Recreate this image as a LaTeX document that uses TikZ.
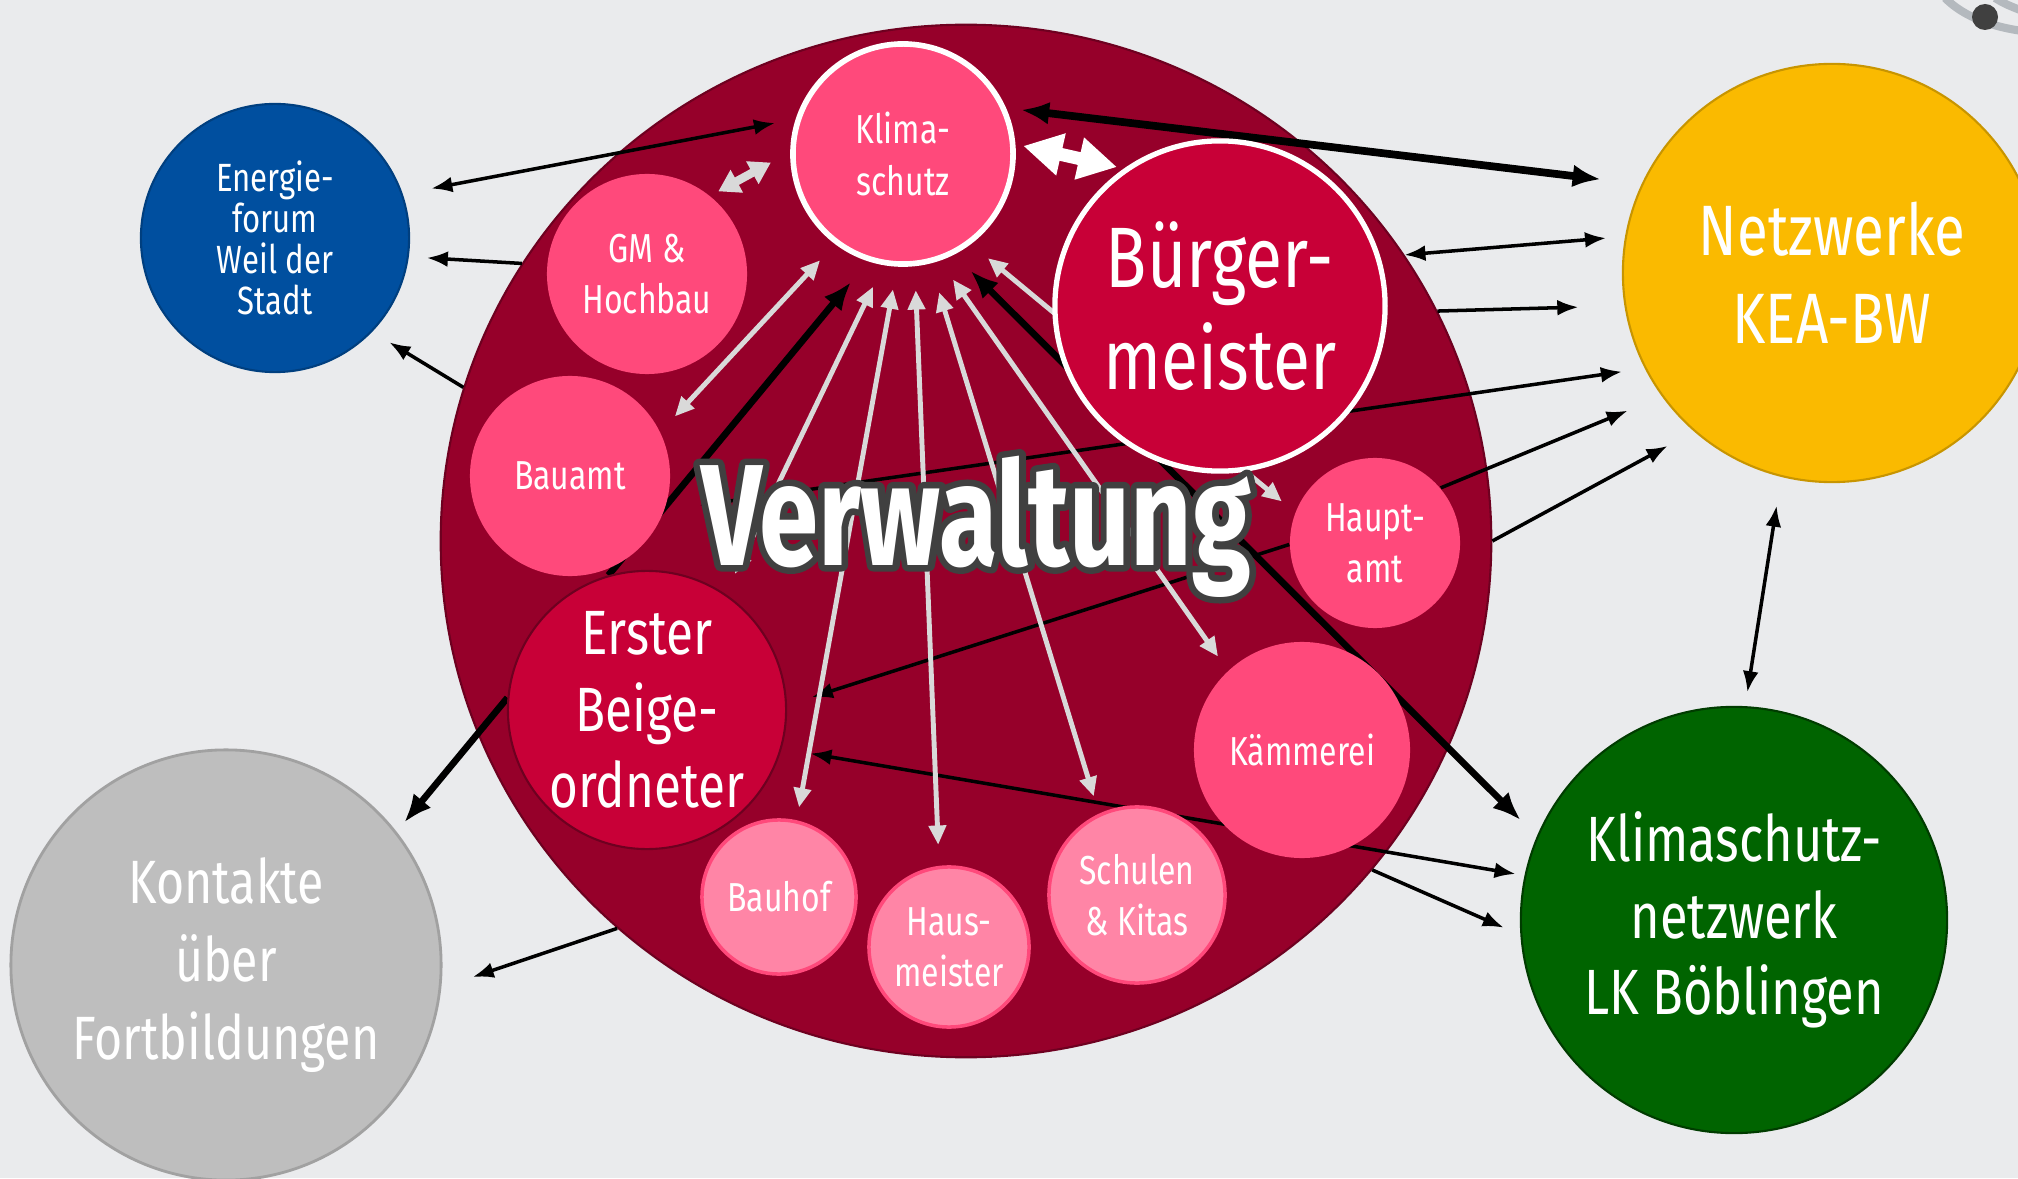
\documentclass[tikz,border=0pt]{standalone}
\usepackage{fontspec}
\setmainfont[FakeStretch=0.79]{Fira Sans}
\newfontfamily\verwfont[FakeStretch=0.74]{Fira Sans}
\newfontfamily\verwrim[FakeStretch=0.74,FakeBold=9]{Fira Sans}
\usetikzlibrary{arrows.meta,shapes.geometric}

\definecolor{paper}{HTML}{EAEBED}
\definecolor{verwred}{HTML}{96002A}
\definecolor{verwedge}{HTML}{6E0020}
\definecolor{pinkred}{HTML}{FF497B}
\definecolor{crimson}{HTML}{C80037}
\definecolor{lightpink}{HTML}{FF85A6}
\definecolor{energyblue}{HTML}{004F9F}
\definecolor{keayellow}{HTML}{FABA00}
\definecolor{lkgreen}{HTML}{006400}
\definecolor{contactgray}{HTML}{BEBEBE}
\definecolor{arrowgray}{HTML}{D9D9D9}
\definecolor{outlinegray}{HTML}{404040}
\definecolor{decogray}{HTML}{B4B9BE}

\pgfdeclarelayer{back}
\pgfdeclarelayer{links}
\pgfsetlayers{back,links,main}

\begin{document}
\begin{tikzpicture}[x=0.01cm,y=0.01cm,
  unit/.style={circle,inner sep=0pt,text=white,align=center},
  smalltext/.style={font=\fontsize{11.5}{14.6}\selectfont},
  office/.style={unit,smalltext,fill=pinkred},
  site/.style={unit,smalltext,fill=lightpink,draw=pinkred,line width=1pt},
  chief/.style={unit,fill=crimson},
  link/.style={line width=1pt,>={Latex[length=6pt,width=4.5pt]}},
  heavylink/.style={line width=1.9pt,>={Latex[length=8pt,width=6.5pt]}},
  greylink/.style={arrowgray,line width=1.4pt,>={Triangle[length=5.5pt,width=4.8pt]}}]

  \useasboundingbox (0,0) rectangle (2018,1178);
  \begin{pgfonlayer}{back}
    \fill[paper] (0,0) rectangle (2018,1178);
    \draw[decogray,line width=2.3pt] (1945,1180) .. controls (1965,1160) and (1995,1150) .. (2030,1146);
    \draw[decogray,line width=2.3pt] (1995,1180) .. controls (2005,1174) .. (2025,1166);
    \fill[outlinegray] (1985,1161) circle (13);
    % Verwaltung
    \node[ellipse,inner sep=0pt,fill=verwred,draw=verwedge,line width=0.6pt,minimum width=10.5cm,minimum height=10.32cm] (verw) at (966,637) {};
  \end{pgfonlayer}

  % Stellen der Verwaltung
  \node[office,draw=white,line width=1.6pt,minimum size=2.2cm] (klima) at (903,1024) {Klima-\\schutz};
  \node[chief,draw=white,line width=1.5pt,minimum size=3.3cm,font=\fontsize{24.4}{28.8}\selectfont] (buerg) at (1220,872) {Bürger-\\meister};
  \node[office,minimum size=2cm] (gm) at (647,904) {GM \&\\Hochbau};
  \node[office,minimum size=2cm] (bau) at (570,702) {Bauamt};
  \node[chief,draw=verwedge,line width=0.6pt,minimum size=2.78cm,font=\fontsize{17.8}{21.7}\selectfont] (erster) at (647,468) {Erster\\Beige-\\ordneter};
  \node[site,minimum size=1.54cm] (bauhof) at (779,281) {Bauhof};
  \node[site,minimum size=1.6cm] (haus) at (949,231) {Haus-\\meister};
  \node[site,minimum size=1.76cm] (schulen) at (1137,283) {Schulen\\\& Kitas};
  \node[office,minimum size=2.16cm] (kaemm) at (1302,428) {Kämmerei};
  \node[office,minimum size=1.7cm] (haupt) at (1375,635) {Haupt-\\amt};

  % Partner ausserhalb
  \node[unit,fill=energyblue,draw=energyblue!80!black,line width=0.6pt,minimum size=2.68cm,font=\fontsize{11.2}{11.7}\selectfont] (energie) at (275,940) {Energie-\\forum\\Weil der\\Stadt};
  \node[unit,fill=keayellow,draw=keayellow!80!black,line width=0.6pt,minimum size=4.18cm,font=\fontsize{20.3}{25}\selectfont] (kea) at (1832,905) {Netzwerke\\KEA-BW};
  \node[unit,fill=lkgreen,draw=lkgreen!60!black,line width=0.6pt,minimum size=4.26cm,font=\fontsize{18.2}{21.7}\selectfont] (ksn) at (1734,258) {Klimaschutz-\\netzwerk\\LK Böblingen};
  \node[unit,fill=contactgray,draw=contactgray!85!black,line width=0.8pt,minimum size=4.3cm,font=\fontsize{17.4}{22.3}\selectfont] (kontakte) at (226,213) {Kontakte\\über\\Fortbildungen};

  \node[anchor=base,text=outlinegray,inner sep=0pt,line join=round,font=\verwrim\bfseries\fontsize{41}{41}\selectfont] (verwrim) at (976,613) {Verwaltung};
  \node[anchor=base,text=white,inner sep=0pt,font=\verwfont\bfseries\fontsize{41}{41}\selectfont] (verwlabel) at (976,613) {Verwaltung};

  \begin{pgfonlayer}{links}
    % schwarze Verbindungen
    \draw[link,<->,shorten <=0.21cm,shorten >=0.29cm] (klima.162) -- (energie.19);
    \draw[link,->,shorten >=0.18cm] (verw.148) -- (energie.-8);
    \draw[link,->,shorten >=0.2cm] (verw.163) -- (energie.-44);
    \draw[link,<->,shorten <=0.24cm,shorten >=0.19cm] (buerg.17) -- (kea.170);
    \draw[link,->,shorten >=0.46cm] (verw.26) -- (kea.189);
    \draw[link,<->,shorten <=0.35cm,shorten >=0.23cm] (bau.-20) -- (kea.207);
    \draw[link,->,shorten >=0.37cm] (haupt.40) -- (kea.216);
    \draw[link,->,shorten >=0.3cm] (verw.0) -- (kea.229);
    \draw[link,<->,shorten <=0.29cm,shorten >=0.14cm] (kea.256) -- (ksn.87);
    \draw[link,->,shorten >=0.26cm] (haupt.181) -- (erster.2);
    \draw[link,<->,shorten <=0.29cm,shorten >=0.09cm] (erster.-16) -- (ksn.168);
    \draw[link,->,shorten >=0.18cm] (verw.-39) -- (ksn.184);
    \draw[link,->,shorten >=0.33cm] (verw.228) -- (kontakte.-6);
    \draw[heavylink,line width=2.2pt,<->,shorten <=0.15cm,shorten >=0.41cm] (klima.24) -- (kea.155);
    \draw[heavylink,<->,shorten <=0.23cm,shorten >=0.23cm] (klima.-63) -- (ksn.157);
    \draw[heavylink,->,shorten >=0.12cm] (erster.175) -- (kontakte.38);
    \draw[heavylink,->,shorten >=0.27cm] (erster.106) -- (klima.252);
    % graue Verbindungen
    \draw[greylink,<->,shorten <=0.22cm,shorten >=0.21cm] (klima.233) -- (bau.26);
    \draw[greylink,<->,shorten <=0.24cm,shorten >=0.22cm] (klima.260) -- (erster.56);
    \draw[greylink,<->,shorten <=0.23cm,shorten >=0.13cm] (klima.267) -- (bauhof.77);
    \draw[greylink,<->,shorten <=0.24cm,shorten >=0.21cm] (klima.276) -- (haus.97);
    \draw[greylink,<->,shorten <=0.3cm,shorten >=0.18cm] (klima.284) -- (schulen.115);
    \draw[greylink,<->,shorten <=0.23cm,shorten >=0.17cm] (klima.289) -- (kaemm.133);
    \draw[greylink,<->,shorten <=0.22cm,shorten >=0.17cm] (klima.307) -- (haupt.159);
    % Doppelpfeile
    \draw[arrowgray,line width=2.4pt,{Triangle[length=6pt,width=7pt]}-{Triangle[length=6pt,width=7pt]},shorten <=0.09cm,shorten >=0.22cm] (gm.51) -- (klima.179);
    \draw[white,line width=3.7pt,{Triangle[length=11pt,width=11.5pt]}-{Triangle[length=11pt,width=11.5pt]},shorten <=0.08cm,shorten >=0.07cm] (klima.5) -- (buerg.125);
  \end{pgfonlayer}
\end{tikzpicture}
\end{document}
